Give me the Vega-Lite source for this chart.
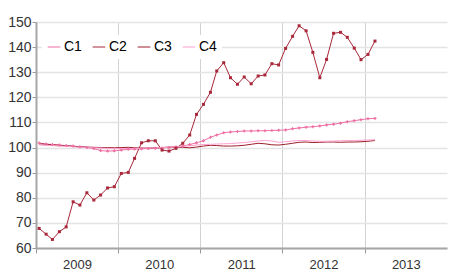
{
  "$schema": "https://vega.github.io/schema/vega-lite/v6.json",
  "width": 411,
  "height": 226,
  "autosize": {"type": "none"},
  "padding": {"left": 36, "top": 22, "right": 3, "bottom": 31},
  "background": "white",
  "config": {"view": {"stroke": null}, "font": "Liberation Sans"},
  "data": {"values": [
    {"m": "2009-01-15", "C1": 101.8, "C2": 67.8, "C3": 101.5, "C4": 101.0},
    {"m": "2009-02-15", "C1": 101.4, "C2": 65.5, "C3": 101.3, "C4": 100.9},
    {"m": "2009-03-15", "C1": 101.2, "C2": 63.4, "C3": 101.1, "C4": 100.8},
    {"m": "2009-04-15", "C1": 101.0, "C2": 66.5, "C3": 100.9, "C4": 100.6},
    {"m": "2009-05-15", "C1": 100.8, "C2": 68.4, "C3": 100.7, "C4": 100.5},
    {"m": "2009-06-15", "C1": 100.6, "C2": 78.4, "C3": 100.5, "C4": 100.3},
    {"m": "2009-07-15", "C1": 100.3, "C2": 77.1, "C3": 100.3, "C4": 100.1},
    {"m": "2009-08-15", "C1": 100.0, "C2": 82.0, "C3": 100.2, "C4": 100.0},
    {"m": "2009-09-15", "C1": 99.6, "C2": 79.1, "C3": 100.1, "C4": 99.9},
    {"m": "2009-10-15", "C1": 98.8, "C2": 81.1, "C3": 100.0, "C4": 99.8},
    {"m": "2009-11-15", "C1": 98.6, "C2": 83.9, "C3": 100.0, "C4": 99.7},
    {"m": "2009-12-15", "C1": 98.7, "C2": 84.4, "C3": 99.9, "C4": 99.6},
    {"m": "2010-01-15", "C1": 99.0, "C2": 89.7, "C3": 100.0, "C4": 99.6},
    {"m": "2010-02-15", "C1": 99.3, "C2": 90.1, "C3": 100.1, "C4": 99.6},
    {"m": "2010-03-15", "C1": 99.4, "C2": 95.7, "C3": 99.9, "C4": 99.6},
    {"m": "2010-04-15", "C1": 99.5, "C2": 101.9, "C3": 99.8, "C4": 99.7},
    {"m": "2010-05-15", "C1": 99.6, "C2": 102.7, "C3": 99.8, "C4": 99.8},
    {"m": "2010-06-15", "C1": 99.7, "C2": 102.7, "C3": 99.9, "C4": 99.9},
    {"m": "2010-07-15", "C1": 99.8, "C2": 99.0, "C3": 100.0, "C4": 100.0},
    {"m": "2010-08-15", "C1": 100.0, "C2": 98.6, "C3": 100.2, "C4": 100.1},
    {"m": "2010-09-15", "C1": 100.2, "C2": 99.7, "C3": 100.2, "C4": 100.3},
    {"m": "2010-10-15", "C1": 100.6, "C2": 101.7, "C3": 100.1, "C4": 100.5},
    {"m": "2010-11-15", "C1": 101.2, "C2": 105.0, "C3": 99.9, "C4": 100.7},
    {"m": "2010-12-15", "C1": 101.9, "C2": 113.2, "C3": 100.2, "C4": 101.0},
    {"m": "2011-01-15", "C1": 102.7, "C2": 117.2, "C3": 100.6, "C4": 101.2},
    {"m": "2011-02-15", "C1": 104.1, "C2": 122.0, "C3": 100.9, "C4": 101.3},
    {"m": "2011-03-15", "C1": 105.0, "C2": 130.5, "C3": 100.8, "C4": 101.4},
    {"m": "2011-04-15", "C1": 105.9, "C2": 133.8, "C3": 100.6, "C4": 101.5},
    {"m": "2011-05-15", "C1": 106.2, "C2": 127.8, "C3": 100.6, "C4": 101.6},
    {"m": "2011-06-15", "C1": 106.4, "C2": 125.2, "C3": 100.7, "C4": 101.8},
    {"m": "2011-07-15", "C1": 106.6, "C2": 128.1, "C3": 100.9, "C4": 102.0},
    {"m": "2011-08-15", "C1": 106.6, "C2": 125.4, "C3": 101.3, "C4": 102.3},
    {"m": "2011-09-15", "C1": 106.7, "C2": 128.5, "C3": 101.7, "C4": 102.6},
    {"m": "2011-10-15", "C1": 106.7, "C2": 128.9, "C3": 101.5, "C4": 102.8},
    {"m": "2011-11-15", "C1": 106.8, "C2": 133.4, "C3": 101.1, "C4": 102.6},
    {"m": "2011-12-15", "C1": 106.9, "C2": 132.9, "C3": 101.0, "C4": 102.1},
    {"m": "2012-01-15", "C1": 107.0, "C2": 139.5, "C3": 101.3, "C4": 102.3},
    {"m": "2012-02-15", "C1": 107.5, "C2": 144.3, "C3": 101.7, "C4": 102.6},
    {"m": "2012-03-15", "C1": 107.8, "C2": 148.5, "C3": 102.1, "C4": 102.8},
    {"m": "2012-04-15", "C1": 108.1, "C2": 146.5, "C3": 102.2, "C4": 102.8},
    {"m": "2012-05-15", "C1": 108.3, "C2": 137.9, "C3": 102.0, "C4": 102.6},
    {"m": "2012-06-15", "C1": 108.6, "C2": 127.8, "C3": 102.1, "C4": 102.5},
    {"m": "2012-07-15", "C1": 109.0, "C2": 135.1, "C3": 102.2, "C4": 102.5},
    {"m": "2012-08-15", "C1": 109.3, "C2": 145.5, "C3": 102.2, "C4": 102.6},
    {"m": "2012-09-15", "C1": 109.7, "C2": 145.9, "C3": 102.1, "C4": 102.7},
    {"m": "2012-10-15", "C1": 110.3, "C2": 143.9, "C3": 102.2, "C4": 102.8},
    {"m": "2012-11-15", "C1": 110.7, "C2": 139.6, "C3": 102.2, "C4": 102.8},
    {"m": "2012-12-15", "C1": 111.1, "C2": 135.0, "C3": 102.3, "C4": 102.9},
    {"m": "2013-01-15", "C1": 111.5, "C2": 137.1, "C3": 102.5, "C4": 103.0},
    {"m": "2013-02-15", "C1": 111.6, "C2": 142.4, "C3": 102.8, "C4": 103.1}
  ]},
  "transform": [{"fold": ["C1", "C2", "C3", "C4"], "as": ["series", "value"]}],
  "encoding": {
    "x": {
      "field": "m", "type": "temporal",
      "scale": {"type": "utc", "domain": [{"year": 2009, "month": 1, "date": 1, "utc": true}, {"year": 2014, "month": 1, "date": 1, "utc": true}]},
      "axis": {
        "values": [
          {"year": 2009, "month": 1, "date": 1, "utc": true},
          {"year": 2010, "month": 1, "date": 1, "utc": true},
          {"year": 2011, "month": 1, "date": 1, "utc": true},
          {"year": 2012, "month": 1, "date": 1, "utc": true},
          {"year": 2013, "month": 1, "date": 1, "utc": true}
        ],
        "format": "%Y", "formatType": "utc",
        "labelOffset": 41, "labelFlush": false, "labelAlign": "center",
        "title": null, "grid": true, "gridColor": "#d2d2d2", "gridWidth": 1,
        "tickSize": 5, "tickColor": "#999999", "domainColor": "#a6a6a6", "domainWidth": 2,
        "labelFontSize": 13, "labelColor": "#333333", "labelPadding": 5
      }
    },
    "y": {
      "field": "value", "type": "quantitative",
      "scale": {"domain": [60, 150], "nice": false, "zero": false},
      "axis": {
        "values": [60, 70, 80, 90, 100, 110, 120, 130, 140, 150],
        "title": null, "grid": true, "gridColor": "#e4e4e4", "gridWidth": 1.5,
        "tickSize": 4, "tickColor": "#999999", "domainColor": "#a6a6a6", "domainWidth": 2,
        "labelFontSize": 14, "labelColor": "#333333", "labelPadding": 1
      }
    },
    "color": {
      "field": "series", "type": "nominal",
      "scale": {"domain": ["C1", "C2", "C3", "C4"], "range": ["#ee6fa3", "#a8283a", "#9c1f2a", "#ffa0d0"]},
      "legend": {
        "orient": "none", "legendX": 6, "legendY": 13, "direction": "horizontal",
        "title": null, "fillColor": "white", "padding": 5,
        "symbolType": "stroke", "symbolSize": 160, "symbolStrokeWidth": 1.5,
        "labelFontSize": 14, "labelColor": "#000000", "columnPadding": 8, "labelOffset": 3
      }
    }
  },
  "layer": [
    {
      "mark": {"type": "line"},
      "encoding": {
        "strokeWidth": {"field": "series", "type": "nominal", "scale": {"domain": ["C1", "C2", "C3", "C4"], "range": [1, 1, 1.3, 2.5]}, "legend": null}
      }
    },
    {
      "transform": [{"filter": {"field": "series", "oneOf": ["C1", "C2"]}}],
      "mark": {"type": "point", "filled": true, "size": 9, "opacity": 1},
      "encoding": {
        "shape": {"field": "series", "type": "nominal", "scale": {"domain": ["C1", "C2"], "range": ["cross", "square"]}, "legend": null}
      }
    }
  ]
}
